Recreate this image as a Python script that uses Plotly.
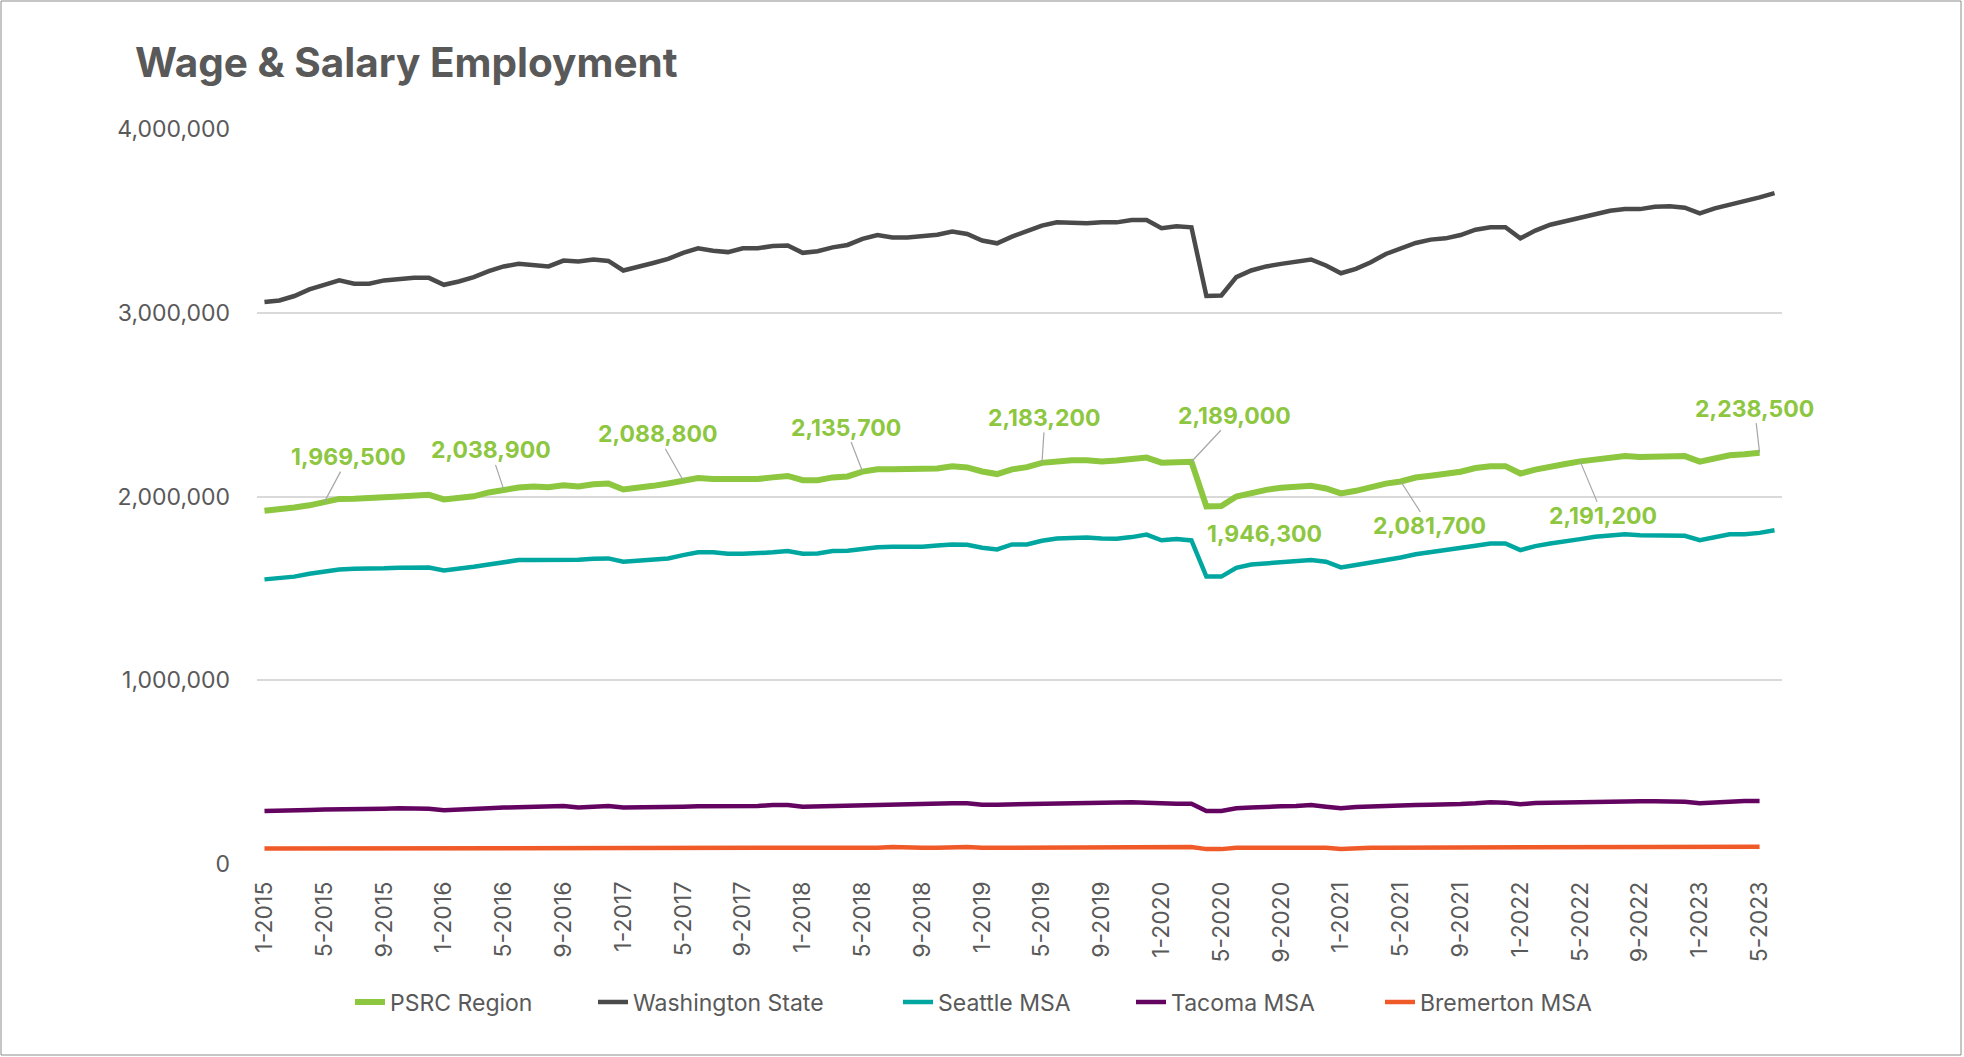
import plotly.graph_objects as go

# ---- data ----
years = [2015, 2016, 2017, 2018, 2019, 2020, 2021, 2022, 2023]
months = list(range(1, 13))
categories = [f"{m}-{y}" for y in years for m in months][:102]  # 1-2015 .. 6-2023
tick_labels = categories[::4]

psrc_region = [
    1922000, 1928000, 1940000, 1952000, 1969500, 1987000, 1988000, 1988000, 1996000, 2000000, 2004000, 2009000,
    1984000, 1994000, 2001000, 2022000, 2038900, 2049000, 2055000, 2050000, 2061000, 2055000, 2067000, 2071000,
    2038000, 2045000, 2058000, 2071000, 2088800, 2100000, 2095000, 2095000, 2095000, 2095000, 2104000, 2112000,
    2089000, 2089000, 2104000, 2109000, 2135700, 2148000, 2148000, 2148000, 2148000, 2153000, 2165000, 2158000,
    2136000, 2122000, 2148000, 2160000, 2183200, 2193000, 2197000, 2197000, 2190000, 2196000, 2205000, 2212000,
    2184000, 2190000, 2189000, 1946300, 1948000, 2000000, 2022000, 2036000, 2048000, 2053000, 2058000, 2044000,
    2017000, 2031000, 2053000, 2070000, 2081700, 2103000, 2113000, 2120000, 2135000, 2155000, 2165000, 2165000,
    2125000, 2146000, 2165000, 2177000, 2191200, 2202000, 2215000, 2220000, 2215000, 2216000, 2220000, 2220000,
    2190000, 2208000, 2224000, 2230000, 2238500,
]

washington_state = [
    3058000, 3067000, 3091000, 3127000, 3152000, 3176000, 3158000, 3158000, 3176000, 3185000, 3190000, 3190000,
    3152000, 3170000, 3194000, 3226000, 3252000, 3266000, 3260000, 3252000, 3284000, 3279000, 3290000, 3282000,
    3230000, 3248000, 3271000, 3293000, 3326000, 3351000, 3337000, 3330000, 3351000, 3351000, 3363000, 3366000,
    3326000, 3335000, 3356000, 3369000, 3402000, 3423000, 3410000, 3409000, 3414000, 3425000, 3442000, 3429000,
    3393000, 3378000, 3414000, 3442000, 3474000, 3492000, 3487000, 3487000, 3492000, 3492000, 3505000, 3505000,
    3460000, 3471000, 3465000, 3091000, 3094000, 3194000, 3230000, 3252000, 3266000, 3275000, 3290000, 3257000,
    3215000, 3239000, 3275000, 3320000, 3347000, 3380000, 3398000, 3405000, 3423000, 3452000, 3465000, 3465000,
    3405000, 3447000, 3479000, 3498000, 3514000, 3532000, 3555000, 3564000, 3564000, 3577000, 3579000, 3572000,
    3541000, 3568000, 3586000, 3610000, 3628000, 3651000,
]

seattle_msa = [
    1549000, 1555000, 1564000, 1580000, 1594000, 1603000, 1607000, 1605000, 1609000, 1612000, 1616000, 1614000,
    1598000, 1611000, 1618000, 1630000, 1645000, 1654000, 1654000, 1654000, 1654000, 1656000, 1661000, 1663000,
    1645000, 1652000, 1658000, 1663000, 1681000, 1696000, 1696000, 1688000, 1688000, 1690000, 1696000, 1703000,
    1688000, 1690000, 1703000, 1705000, 1717000, 1724000, 1726000, 1726000, 1726000, 1733000, 1739000, 1737000,
    1721000, 1712000, 1739000, 1739000, 1759000, 1771000, 1777000, 1777000, 1771000, 1770000, 1779000, 1793000,
    1762000, 1768000, 1761000, 1564000, 1564000, 1612000, 1630000, 1636000, 1648000, 1650000, 1654000, 1645000,
    1614000, 1627000, 1639000, 1654000, 1668000, 1686000, 1699000, 1708000, 1721000, 1732000, 1744000, 1744000,
    1708000, 1730000, 1744000, 1753000, 1768000, 1781000, 1789000, 1795000, 1789000, 1789000, 1789000, 1786000,
    1762000, 1779000, 1795000, 1795000, 1802000, 1816000,
]

tacoma_msa = [
    288000, 288000, 288000, 294000, 296000, 296000, 297000, 299000, 301000, 303000, 303000, 301000,
    292000, 294000, 299000, 303000, 307000, 308000, 308000, 310000, 316000, 308000, 314000, 316000,
    307000, 307000, 307000, 308000, 312000, 314000, 314000, 314000, 314000, 316000, 321000, 321000,
    312000, 314000, 316000, 321000, 323000, 323000, 323000, 325000, 328000, 330000, 330000, 330000,
    323000, 323000, 325000, 325000, 328000, 330000, 334000, 336000, 336000, 337000, 336000, 334000,
    328000, 328000, 328000, 288000, 288000, 303000, 308000, 308000, 314000, 316000, 321000, 312000,
    303000, 310000, 314000, 319000, 319000, 321000, 323000, 323000, 326000, 330000, 336000, 334000,
    325000, 332000, 334000, 336000, 337000, 339000, 341000, 341000, 341000, 341000, 341000, 339000,
    330000, 337000, 339000, 343000, 343000,
]

bremerton_msa = [
    84000, 84000, 84000, 84000, 85000, 88000, 89000, 89000, 89000, 89000, 89000, 89000,
    89000, 89000, 89000, 89000, 89000, 89000, 89000, 89000, 89000, 89000, 89000, 89000,
    89000, 89000, 89000, 89000, 89000, 89000, 89000, 89000, 89000, 89000, 89000, 89000,
    89000, 89000, 89000, 89000, 89000, 89000, 92000, 88000, 88000, 89000, 92000, 92000,
    88000, 88000, 89000, 91000, 92000, 93000, 93000, 93000, 93000, 93000, 93000, 93000,
    93000, 93000, 93000, 81000, 81000, 88000, 89000, 89000, 89000, 89000, 89000, 89000,
    82000, 88000, 89000, 89000, 89000, 89000, 89000, 89000, 89000, 89000, 89000, 89000,
    89000, 89000, 89000, 89000, 93000, 94000, 94000, 94000, 94000, 94000, 94000, 94000,
    94000, 94000, 94000, 94000, 94000,
]

# PSRC labelled points (category index) and label offsets (px)
label_idx = [4, 16, 28, 40, 52, 62, 63, 76, 88, 100]
label_off = {4: (24, -45), 16: (-13, -39), 28: (-26, -46), 40: (-17, -44), 52: (3, -45),
             62: (43, -46), 63: (58, 28), 76: (29, 45), 88: (23, 55), 100: (-5, -44)}
no_leader = {63}

# ---- styling ----
GREEN = "#8DC63F"
DARK = "#4A4A4A"
TEAL = "#00A7A0"
PURPLE = "#630460"
ORANGE = "#F05A28"
TEXT = "#595959"
FONT = "Inter, Lato, DejaVu Sans, sans-serif"

L, R, T, B = 257, 182, 129, 193
W, H = 1964, 1057
pw, ph = W - L - R, H - T - B

# legend entry text starts (page px)
legend_text_x = [390, 633, 938, 1171, 1420]
legend_y_px = 1002

fig = go.Figure()
series = [
    ("PSRC Region", psrc_region, GREEN, 6),
    ("Washington State", washington_state, DARK, 4.5),
    ("Seattle MSA", seattle_msa, TEAL, 4.5),
    ("Tacoma MSA", tacoma_msa, PURPLE, 4.5),
    ("Bremerton MSA", bremerton_msa, ORANGE, 4.5),
]
legend_layout = {}
for k, (name, vals, color, w) in enumerate(series):
    lname = "legend" if k == 0 else f"legend{k + 1}"
    fig.add_trace(go.Scatter(
        x=categories[:len(vals)], y=vals, name=name, mode="lines",
        line=dict(color=color, width=w), legend=lname,
        hovertemplate="%{x}: %{y:,}<extra>" + name + "</extra>",
    ))
    legend_layout[lname] = dict(
        orientation="h", xanchor="left", yanchor="middle",
        x=(legend_text_x[k] - 40 - L) / pw, y=-(legend_y_px - (H - B)) / ph,
        font=dict(family=FONT, size=23, color=TEXT), bgcolor="rgba(0,0,0,0)",
        borderwidth=0,
    )

for i in label_idx:
    ax, ay = label_off[i]
    v = psrc_region[i]
    if i in no_leader:
        fig.add_annotation(x=categories[i], y=v, text=f"{v:,}", showarrow=False,
                           xshift=ax, yshift=-ay,
                           font=dict(family=FONT, size=23, color=GREEN, weight=700))
    else:
        fig.add_annotation(x=categories[i], y=v, text=f"{v:,}", showarrow=True,
                           ax=ax, ay=ay, arrowhead=0, arrowwidth=1.2, arrowcolor="#A6A6A6",
                           standoff=0, startstandoff=0, borderpad=0,
                           font=dict(family=FONT, size=23, color=GREEN, weight=700))

# outer frame
fig.add_shape(type="rect", xref="paper", yref="paper",
              x0=(1 - L) / pw, x1=(W - 3 - L) / pw,
              y0=-(B - 2) / ph, y1=(ph + T - 1) / ph,
              line=dict(color="#8C8C8C", width=1), fillcolor="rgba(0,0,0,0)", layer="below")

fig.update_layout(
    width=W, height=H,
    margin=dict(l=L, r=R, t=T, b=B),
    paper_bgcolor="white", plot_bgcolor="white",
    title=dict(text="<b>Wage & Salary Employment</b>", x=135 / W, xanchor="left",
               y=1 - 63 / H, yanchor="middle",
               font=dict(family=FONT, size=40.5, color=TEXT)),
    font=dict(family=FONT, color=TEXT),
    showlegend=True,
    hovermode="closest",
    **legend_layout,
)
fig.update_xaxes(type="category", categoryorder="array", categoryarray=categories,
                 range=[-0.5, len(categories) - 0.5],
                 tickmode="array", tickvals=tick_labels, ticktext=tick_labels,
                 tickangle=-90, showgrid=False, showline=False, zeroline=False, ticks="",
                 ticklabelstandoff=12,
                 tickfont=dict(family=FONT, size=23, color=TEXT))
fig.update_yaxes(range=[0, 4000000], tickvals=[0, 1000000, 2000000, 3000000, 4000000],
                 tickformat=",d", showgrid=True, gridcolor="#D9D9D9", gridwidth=1.5,
                 zeroline=False, showline=False, ticks="", ticklabelstandoff=26,
                 tickfont=dict(family=FONT, size=23, color=TEXT))

fig.write_html("out.html", config={"displayModeBar": False},
               post_script="document.body.style.margin='0';document.body.style.overflow='hidden';")
